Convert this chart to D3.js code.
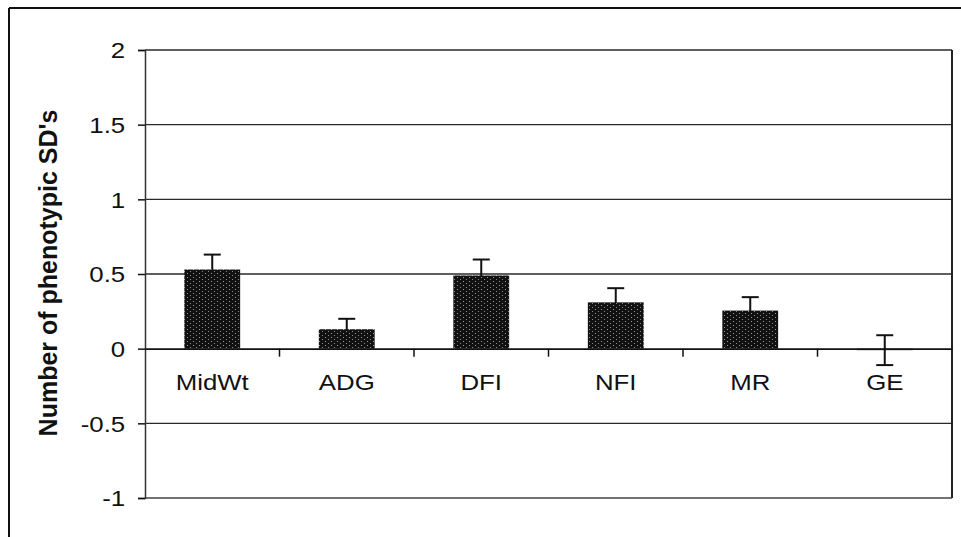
<!DOCTYPE html>
<html><head><meta charset="utf-8">
<script src="https://cdn.jsdelivr.net/npm/d3@7"></script>
<style>
html,body{margin:0;padding:0;background:#fff;}
svg{display:block;font-family:"Liberation Sans",Arial,sans-serif;}
</style></head>
<body>
<svg id="chart" width="961" height="537"></svg>
<script>
const categories = ["MidWt","ADG","DFI","NFI","MR","GE"];
const values = [0.53, 0.13, 0.49, 0.31, 0.255, -0.01];
const errors = [0.10, 0.07, 0.107, 0.095, 0.09, 0.10];
const yTicks = [-1, -0.5, 0, 0.5, 1, 1.5, 2];
const yTickLabels = ["-1", "-0.5", "0", "0.5", "1", "1.5", "2"];
const yTitle = "Number of phenotypic SD's";

const svg = d3.select("#chart");
const plot = {left:145, right:952, top:50, bottom:498};

const x = d3.scaleBand().domain(categories).range([plot.left, plot.right]).padding(0);
const y = d3.scaleLinear().domain([-1, 2]).range([plot.bottom, plot.top]);

// stipple pattern for bars
const defs = svg.append("defs");
const pat = defs.append("pattern").attr("id","stip").attr("patternUnits","userSpaceOnUse")
  .attr("width",6).attr("height",4);
pat.append("rect").attr("width",6).attr("height",4).attr("fill","#111");
pat.append("rect").attr("x",1).attr("y",1).attr("width",1).attr("height",1).attr("fill","#9a9a9a");
pat.append("rect").attr("x",4).attr("y",3).attr("width",1).attr("height",1).attr("fill","#8a8a8a");

// outer frame (top and left)
svg.append("line").attr("x1",9).attr("x2",961).attr("y1",8).attr("y2",8).attr("stroke","#111").attr("stroke-width",2);
svg.append("line").attr("x1",9).attr("x2",9).attr("y1",8).attr("y2",537).attr("stroke","#111").attr("stroke-width",2);

// gridlines
svg.append("g").selectAll("line").data(yTicks.filter(d => d !== 0 && d !== -1)).join("line")
  .attr("x1", plot.left).attr("x2", plot.right)
  .attr("y1", d => y(d)).attr("y2", d => y(d))
  .attr("stroke","#2a2a2a").attr("stroke-width",1.3);

// plot frame right/bottom
svg.append("line").attr("x1",plot.right).attr("x2",plot.right).attr("y1",plot.top).attr("y2",plot.bottom).attr("stroke","#222").attr("stroke-width",2);
svg.append("line").attr("x1",plot.left).attr("x2",plot.right).attr("y1",plot.bottom).attr("y2",plot.bottom).attr("stroke","#444").attr("stroke-width",1.5);

// y axis
const yAxis = d3.axisLeft(y).tickValues(yTicks).tickSize(7).tickPadding(0)
  .tickFormat((d,i) => yTickLabels[i]);
const gy = svg.append("g").attr("transform", `translate(${plot.left},0)`).call(yAxis);
gy.select(".domain").attr("stroke","#333").attr("stroke-width",1.5);
gy.selectAll(".tick line").attr("stroke","#111").attr("stroke-width",1.5);
gy.selectAll(".tick text")
  .attr("x", -16.5).attr("dy","0.36em")
  .attr("transform","scale(1.2,1)")
  .attr("font-size",21.5).attr("fill","#111")
  .attr("font-family",'"Liberation Sans",Arial,sans-serif');

// error bars (drawn behind bars)
const eb = svg.append("g").attr("stroke","#111").attr("stroke-width",2);
categories.forEach((c,i) => {
  const cx = x(c) + x.bandwidth()/2;
  const hi = y(values[i] + errors[i]), lo = y(values[i] - errors[i]);
  eb.append("line").attr("x1",cx).attr("x2",cx).attr("y1",hi).attr("y2",lo);
  eb.append("line").attr("x1",cx-8.5).attr("x2",cx+8.5).attr("y1",hi).attr("y2",hi);
  eb.append("line").attr("x1",cx-8.5).attr("x2",cx+8.5).attr("y1",lo).attr("y2",lo);
});

// bars
const bw = x.bandwidth()*0.415;
svg.append("g").selectAll("rect").data(categories.map((c,i)=>({c, v: values[i]}))).join("rect")
  .attr("x", d => x(d.c) + x.bandwidth()/2 - bw/2)
  .attr("width", bw)
  .attr("y", d => y(Math.max(0,d.v)))
  .attr("height", d => Math.abs(y(d.v) - y(0)))
  .attr("fill","url(#stip)");

// x axis at zero
const xAxis = d3.axisBottom(x).tickSize(0).tickFormat(() => "");
const gx = svg.append("g").attr("transform", `translate(0,${y(0)})`).call(xAxis);
gx.select(".domain").attr("stroke","#111").attr("stroke-width",1.8);
// category boundary ticks
gx.append("g").selectAll("line").data(categories.slice(1)).join("line")
  .attr("x1", d => x(d)).attr("x2", d => x(d)).attr("y1",0).attr("y2",8)
  .attr("stroke","#111").attr("stroke-width",1.5);

// category labels
svg.append("g").selectAll("text").data(categories).join("text")
  .attr("transform", d => `translate(${x(d)+x.bandwidth()/2},${y(0)+41}) scale(1.2,1)`)
  .attr("text-anchor","middle").attr("font-size",21.5).attr("fill","#111")
  .text(d => d);

// y title
svg.append("text")
  .attr("transform", `translate(57,${(103+443)/2}) rotate(-90)`)
  .attr("text-anchor","middle").attr("font-size",25).attr("font-weight","bold").attr("fill","#111")
  .text(yTitle);
</script>
</body></html>
